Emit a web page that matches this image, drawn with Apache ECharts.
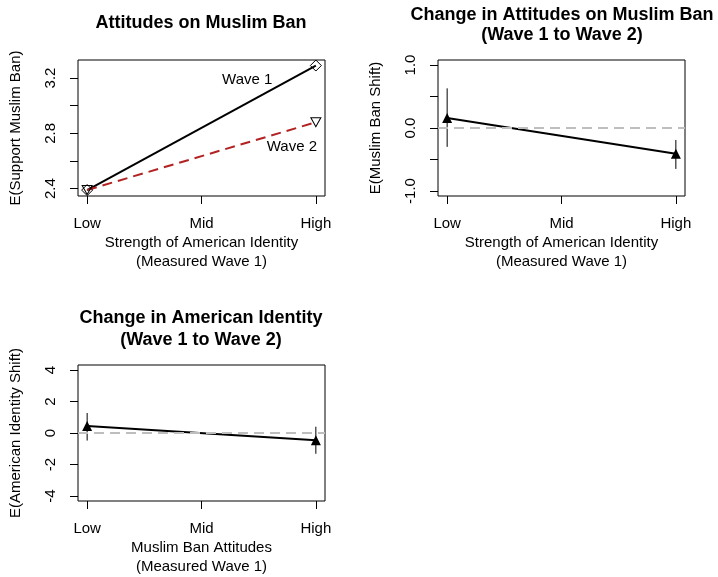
<!DOCTYPE html>
<html>
<head>
<meta charset="utf-8">
<script src="https://cdn.jsdelivr.net/npm/echarts@6/dist/echarts.min.js"></script>
<style>
html,body{margin:0;padding:0;background:#fff;}
#c{width:718px;height:577px;}
</style>
</head>
<body>
<div id="c"></div>
<script>
// ---------- data ----------
var xCats = ['Low', 'Mid', 'High'];
var xPos = [1, 3];                 // Low, High
// Panel 1: Attitudes on Muslim Ban
var wave1 = [2.39, 3.29];
var wave2 = [2.39, 2.88];
var p1Ticks = [2.4, 2.6, 2.8, 3.0, 3.2];
var p1Labels = [2.4, 2.8, 3.2];
var waveNotes = [['Wave 1', 2.40, 3.19], ['Wave 2', 2.79, 2.70]];
// Panel 2: Change in attitudes on Muslim Ban
var banShift = [0.16, -0.41];
var banLo = [-0.30, -0.65];
var banHi = [0.63, -0.19];
var p2Ticks = [-1.0, -0.5, 0.0, 0.5, 1.0];
var p2Labels = [-1.0, 0.0, 1.0];
// Panel 3: Change in American identity
var idShift = [0.45, -0.46];
var idLo = [-0.48, -1.32];
var idHi = [1.27, 0.40];
var p3Ticks = [-4, -2, 0, 2, 4];
var p3Labels = [-4, -2, 0, 2, 4];

var FONT = '"Liberation Sans", Arial, Helvetica, sans-serif';
var chart = echarts.init(document.getElementById('c'));

function pairs(xs, ys) { return xs.map(function (x, i) { return [x, ys[i]]; }); }

function xAxisDef(idx, name) {
  return {
    type: 'value', gridIndex: idx, min: 0.92, max: 3.08,
    name: name, nameLocation: 'middle', nameGap: 37,
    nameTextStyle: { fontFamily: FONT, fontSize: 15, color: '#000', lineHeight: 19 },
    axisLine: { show: false, onZero: false },
    splitLine: { show: false },
    axisTick: { show: true, inside: false, length: 8, customValues: [1, 2, 3], lineStyle: { color: '#000', width: 1 } },
    axisLabel: { show: true, margin: 20, customValues: [1, 2, 3], fontFamily: FONT, fontSize: 15, color: '#000',
      formatter: function (v) { return xCats[Math.round(v) - 1]; } }
  };
}
function yAxisDef(idx, name, min, max, ticks, labels, dec) {
  return {
    type: 'value', gridIndex: idx, min: min, max: max,
    name: name, nameLocation: 'middle', nameGap: 55, nameRotate: 90,
    nameTextStyle: { fontFamily: FONT, fontSize: 15, color: '#000' },
    axisLine: { show: false, onZero: false },
    splitLine: { show: false },
    axisTick: { show: true, inside: false, length: 8, customValues: ticks, lineStyle: { color: '#000', width: 1 } },
    axisLabel: { show: true, rotate: 90, margin: 20, customValues: labels, fontFamily: FONT, fontSize: 15, color: '#000',
      formatter: function (v) { return Number(v).toFixed(dec); } }
  };
}
function errBars(idx, lo, hi) {
  return {
    type: 'custom', xAxisIndex: idx, yAxisIndex: idx, z: 2,
    data: xPos.map(function (x, i) { return [x, lo[i], hi[i]]; }),
    renderItem: function (params, api) {
      var a = api.coord([api.value(0), api.value(1)]);
      var b = api.coord([api.value(0), api.value(2)]);
      return { type: 'line', shape: { x1: a[0], y1: a[1], x2: b[0], y2: b[1] },
        style: { stroke: '#000', lineWidth: 1 } };
    }
  };
}
function zeroLine(idx) {
  return {
    type: 'line', xAxisIndex: idx, yAxisIndex: idx, z: 4, silent: true,
    data: [[0.92, 0], [3.08, 0]], symbol: 'none',
    lineStyle: { color: '#bebebe', width: 2, type: [10, 6] }
  };
}
function mainLine(idx, ys) {
  return {
    type: 'line', xAxisIndex: idx, yAxisIndex: idx, z: 3,
    data: pairs(xPos, ys), symbol: 'triangle', symbolSize: 10,
    lineStyle: { color: '#000', width: 2 },
    itemStyle: { color: '#000' }
  };
}

var tri = 'path://M0,0 L10,0 L5,8.66 Z';

var option = {
  animation: false,
  backgroundColor: '#fff',
  grid: [
    { left: 78, top: 60, width: 247, height: 136, show: true, borderColor: '#000', borderWidth: 1, backgroundColor: 'transparent' },
    { left: 438, top: 60, width: 247, height: 136, show: true, borderColor: '#000', borderWidth: 1, backgroundColor: 'transparent' },
    { left: 78, top: 365, width: 247, height: 137, show: true, borderColor: '#000', borderWidth: 1, backgroundColor: 'transparent' }
  ],
  xAxis: [
    xAxisDef(0, 'Strength of American Identity\n(Measured Wave 1)'),
    xAxisDef(1, 'Strength of American Identity\n(Measured Wave 1)'),
    xAxisDef(2, 'Muslim Ban Attitudes\n(Measured Wave 1)')
  ],
  yAxis: [
    yAxisDef(0, 'E(Support Muslim Ban)', 2.347, 3.33, p1Ticks, p1Labels, 1),
    yAxisDef(1, 'E(Muslim Ban Shift)', -1.08, 1.08, p2Ticks, p2Labels, 1),
    yAxisDef(2, 'E(American Identity Shift)', -4.32, 4.32, p3Ticks, p3Labels, 0)
  ],
  graphic: [
    { type: 'text', x: 201, y: 23, style: { text: 'Attitudes on Muslim Ban', font: 'bold 18px ' + FONT, fill: '#000', align: 'center', verticalAlign: 'middle' } },
    { type: 'text', x: 562, y: 25, style: { text: 'Change in Attitudes on Muslim Ban\n(Wave 1 to Wave 2)', font: 'bold 18px ' + FONT, fill: '#000', align: 'center', verticalAlign: 'middle', lineHeight: 20 } },
    { type: 'text', x: 201, y: 329, style: { text: 'Change in American Identity\n(Wave 1 to Wave 2)', font: 'bold 18px ' + FONT, fill: '#000', align: 'center', verticalAlign: 'middle', lineHeight: 22 } }
  ],
  series: [
    {
      type: 'line', xAxisIndex: 0, yAxisIndex: 0, z: 3,
      data: pairs(xPos, wave1), symbol: 'diamond', symbolSize: 11,
      lineStyle: { color: '#000', width: 2 },
      itemStyle: { color: 'rgba(0,0,0,0)', borderColor: '#000', borderWidth: 1 }
    },
    {
      type: 'line', xAxisIndex: 0, yAxisIndex: 0, z: 3,
      data: pairs(xPos, wave2), symbol: tri, symbolSize: [10, 9],
      lineStyle: { color: '#b22222', width: 2, type: [10, 6] },
      itemStyle: { color: 'rgba(0,0,0,0)', borderColor: '#000', borderWidth: 1 }
    },
    {
      type: 'scatter', xAxisIndex: 0, yAxisIndex: 0, symbolSize: 0, silent: true,
      itemStyle: { opacity: 1 },
      data: waveNotes.map(function (n) { return { value: [n[1], n[2]], name: n[0] }; }),
      label: { show: true, position: 'inside', formatter: '{b}', fontFamily: FONT, fontSize: 15, color: '#000', opacity: 1 }
    },
    errBars(1, banLo, banHi),
    mainLine(1, banShift),
    zeroLine(1),
    errBars(2, idLo, idHi),
    mainLine(2, idShift),
    zeroLine(2)
  ]
};
chart.setOption(option);
</script>
</body>
</html>
